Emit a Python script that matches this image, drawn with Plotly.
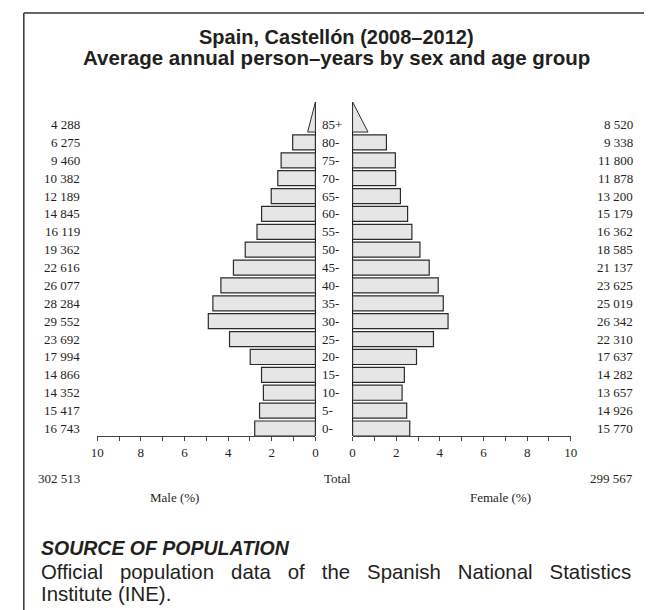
import plotly.graph_objects as go

# ---------------- data ----------------
age_groups = ["0-", "5-", "10-", "15-", "20-", "25-", "30-", "35-", "40-",
              "45-", "50-", "55-", "60-", "65-", "70-", "75-", "80-", "85+"]
male_counts = [16743, 15417, 14352, 14866, 17994, 23692, 29552, 28284, 26077,
               22616, 19362, 16119, 14845, 12189, 10382, 9460, 6275, 4288]
female_counts = [15770, 14926, 13657, 14282, 17637, 22310, 26342, 25019, 23625,
                 21137, 18585, 16362, 15179, 13200, 11878, 11800, 9338, 8520]
male_total = 302513
female_total = 299567
x_tick_values = [0, 2, 4, 6, 8, 10]

# percentages of the whole population (both sexes)
grand_total = male_total + female_total
male_pct = [c / grand_total * 100 for c in male_counts]
female_pct = [c / grand_total * 100 for c in female_counts]

def fmt(n):
    return f"{n:,}".replace(",", " ")

# ---------------- layout helpers ----------------
W, H = 652, 610
def px(x):
    return x / W
def py(y):
    return 1 - y / H

SERIF = "Liberation Serif, Times New Roman, serif"
SANS = "Liberation Sans, Arial, sans-serif"
TXT = "#231f20"
FILL = "#e6e6e6"
EDGE = "#2b2b2b"
BAR_W = 0.84

idx = list(range(len(age_groups)))
n_bars = len(age_groups) - 1
tri_base = idx[-1] - BAR_W / 2
tri_apex = tri_base + 2 * BAR_W

fig = go.Figure()

# bars (0- .. 80-)
fig.add_trace(go.Bar(
    x=male_pct[:n_bars], y=idx[:n_bars], orientation="h", width=BAR_W,
    marker=dict(color=FILL, line=dict(color=EDGE, width=1.2)),
    xaxis="x", yaxis="y", hoverinfo="skip"))
fig.add_trace(go.Bar(
    x=female_pct[:n_bars], y=idx[:n_bars], orientation="h", width=BAR_W,
    marker=dict(color=FILL, line=dict(color=EDGE, width=1.2)),
    xaxis="x2", yaxis="y", hoverinfo="skip"))

# open-ended last group drawn as a triangle
fig.add_trace(go.Scatter(
    x=[0, male_pct[-1] / 2, 0, 0], y=[tri_base, tri_base, tri_apex, tri_base],
    mode="lines", fill="toself", fillcolor=FILL,
    line=dict(color=EDGE, width=1), xaxis="x", yaxis="y", hoverinfo="skip"))
fig.add_trace(go.Scatter(
    x=[0, female_pct[-1] / 2, 0, 0], y=[tri_base, tri_base, tri_apex, tri_base],
    mode="lines", fill="toself", fillcolor=FILL,
    line=dict(color=EDGE, width=1), xaxis="x2", yaxis="y", hoverinfo="skip"))

axis_common = dict(
    showgrid=False, zeroline=True, zerolinecolor="#111", zerolinewidth=1,
    showline=True, linecolor="#444", linewidth=1,
    ticks="outside", ticklen=4, tickcolor="#444", tickwidth=1,
    tickvals=x_tick_values, ticktext=[str(v) for v in x_tick_values],
    minor=dict(dtick=1, tick0=0, ticks="outside", ticklen=4, tickcolor="#444"),
    tickfont=dict(family=SERIF, size=13, color=TXT),
    anchor="y", fixedrange=True,
)

y_bottom_px, slot_px = 428, 17.88
y_top_px = y_bottom_px - (tri_apex + BAR_W / 2) * slot_px

fig.update_layout(
    width=W, height=H,
    margin=dict(l=0, r=0, t=0, b=0),
    paper_bgcolor="white", plot_bgcolor="white",
    showlegend=False, barmode="overlay",
    xaxis=dict(domain=[px(84), px(307)], range=[10, 0], **axis_common),
    xaxis2=dict(domain=[px(345), px(568)], range=[0, 10], **axis_common),
    yaxis=dict(domain=[py(y_bottom_px), py(y_top_px)],
               range=[-BAR_W / 2, tri_apex], visible=False, fixedrange=True),
)

ann = []
# title
ann.append(dict(text="<b>Spain, Castellón (2008–2012)</b>", x=px(329), y=py(29),
                xref="paper", yref="paper", xanchor="center", yanchor="middle",
                showarrow=False, font=dict(family=SANS, size=20, color=TXT)))
ann.append(dict(text="<b>Average annual person–years by sex and age group</b>",
                x=px(329), y=py(49), xref="paper", yref="paper",
                xanchor="center", yanchor="middle", showarrow=False,
                font=dict(family=SANS, size=20.5, color=TXT)))

for i, lab in enumerate(age_groups):
    ann.append(dict(text=lab, x=px(312), y=i, xref="paper", yref="y",
                    xanchor="left", yanchor="middle", showarrow=False,
                    font=dict(family=SERIF, size=13, color=TXT)))
    ann.append(dict(text=fmt(male_counts[i]), x=px(68), y=i, xref="paper", yref="y",
                    xanchor="right", yanchor="middle", showarrow=False,
                    font=dict(family=SERIF, size=13, color=TXT)))
    ann.append(dict(text=fmt(female_counts[i]), x=px(634), y=i, xref="paper", yref="y",
                    xanchor="right", yanchor="middle", showarrow=False,
                    font=dict(family=SERIF, size=13, color=TXT)))

ann.append(dict(text=fmt(male_total), x=px(68), y=py(471), xref="paper", yref="paper",
                xanchor="right", yanchor="middle", showarrow=False,
                font=dict(family=SERIF, size=13, color=TXT)))
ann.append(dict(text="Total", x=px(330), y=py(471), xref="paper", yref="paper",
                xanchor="center", yanchor="middle", showarrow=False,
                font=dict(family=SERIF, size=13, color=TXT)))
ann.append(dict(text=fmt(female_total), x=px(634), y=py(471), xref="paper", yref="paper",
                xanchor="right", yanchor="middle", showarrow=False,
                font=dict(family=SERIF, size=13, color=TXT)))
ann.append(dict(text="Male (%)", x=px(163), y=py(489), xref="paper", yref="paper",
                xanchor="center", yanchor="middle", showarrow=False,
                font=dict(family=SERIF, size=13, color=TXT)))
ann.append(dict(text="Female (%)", x=px(496), y=py(489), xref="paper", yref="paper",
                xanchor="center", yanchor="middle", showarrow=False,
                font=dict(family=SERIF, size=13, color=TXT)))

# source block
ann.append(dict(text="<b><i>SOURCE OF POPULATION</i></b>", x=px(25), y=py(540),
                xref="paper", yref="paper", xanchor="left", yanchor="middle",
                showarrow=False, font=dict(family=SANS, size=19.5, color=TXT)))
GAP = "\u00a0\u00a0\u00a0"
line1 = GAP.join(["Official", "population", "data", "of", "the", "Spanish",
                  "National", "Statistics"])
ann.append(dict(text=line1, x=px(25), y=py(564), xref="paper", yref="paper",
                xanchor="left", yanchor="middle", showarrow=False,
                font=dict(family=SANS, size=20.4, color=TXT)))
ann.append(dict(text="Institute (INE).", x=px(25), y=py(586), xref="paper", yref="paper",
                xanchor="left", yanchor="middle", showarrow=False,
                font=dict(family=SANS, size=20.4, color=TXT)))

fig.update_layout(annotations=ann)

# frame (top and left rules)
fig.add_shape(type="line", xref="paper", yref="paper", x0=px(9), x1=1,
              y0=py(5), y1=py(5), line=dict(color="#333", width=1.5))
fig.add_shape(type="line", xref="paper", yref="paper", x0=px(9), x1=px(9),
              y0=0, y1=py(5), line=dict(color="#333", width=1.5))

fig.write_html("out.html")
